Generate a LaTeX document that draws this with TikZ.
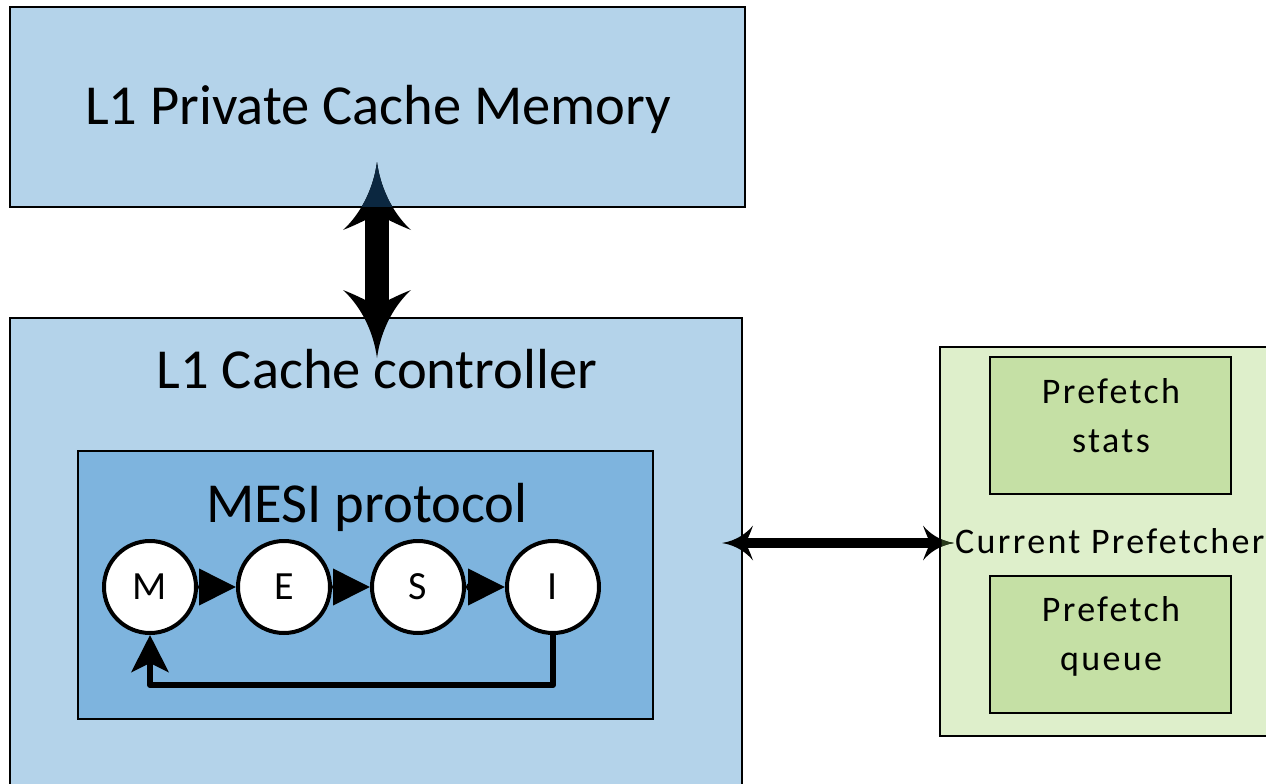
\documentclass[tikz,border=0pt]{standalone}
\usepackage{fontspec}
\setmainfont{Carlito}
\newfontfamily\trackedfont[LetterSpace=6.5]{Carlito}
\usetikzlibrary{arrows.meta}

\definecolor{cacheblue}{RGB}{180,211,234}
\definecolor{mesiblue}{RGB}{126,180,222}
\definecolor{preflight}{RGB}{222,239,203}
\definecolor{prefdark}{RGB}{197,224,165}
\definecolor{tipnavy}{RGB}{11,39,64}
\definecolor{tipgreen}{RGB}{40,58,26}

% flared arrow head with concave sides
\pgfdeclarearrow{
  name = Flare,
  parameters = {\the\pgfarrowlength,\the\pgfarrowwidth},
  setup code = {
    \pgfarrowssettipend{0pt}
    \pgfarrowssetbackend{-\pgfarrowlength}
    \pgfarrowssetlineend{-0.7\pgfarrowlength}
    \pgfarrowssavethe\pgfarrowlength
    \pgfarrowssavethe\pgfarrowwidth
  },
  drawing code = {
    \pgfpathmoveto{\pgfqpoint{0pt}{0pt}}
    \pgfpathcurveto
      {\pgfpoint{-0.45\pgfarrowlength}{0.06\pgfarrowwidth}}
      {\pgfpoint{-0.8\pgfarrowlength}{0.28\pgfarrowwidth}}
      {\pgfpoint{-\pgfarrowlength}{0.5\pgfarrowwidth}}
    \pgfpathcurveto
      {\pgfpoint{-0.9\pgfarrowlength}{0.25\pgfarrowwidth}}
      {\pgfpoint{-0.82\pgfarrowlength}{0.1\pgfarrowwidth}}
      {\pgfpoint{-0.75\pgfarrowlength}{0pt}}
    \pgfpathcurveto
      {\pgfpoint{-0.82\pgfarrowlength}{-0.1\pgfarrowwidth}}
      {\pgfpoint{-0.9\pgfarrowlength}{-0.25\pgfarrowwidth}}
      {\pgfpoint{-\pgfarrowlength}{-0.5\pgfarrowwidth}}
    \pgfpathcurveto
      {\pgfpoint{-0.8\pgfarrowlength}{-0.28\pgfarrowwidth}}
      {\pgfpoint{-0.45\pgfarrowlength}{-0.06\pgfarrowwidth}}
      {\pgfqpoint{0pt}{0pt}}
    \pgfpathclose
    \pgfusepathqfill
  },
  defaults = {length=10pt, width=10pt}
}

\newcommand\titlesize{\fontsize{56.5}{64}\selectfont}
\newcommand\statesize{\fontsize{40}{46}\selectfont}
\newcommand\prefsize{\trackedfont\fontsize{36}{49}\selectfont}

\begin{document}
\begin{tikzpicture}[x=1pt,y=-1pt,
  box/.style={draw=black, line width=2pt, rectangle, inner sep=0pt, outer sep=0pt},
  thinbox/.style={draw=black, line width=1.3pt, rectangle, inner sep=0pt, outer sep=0pt},
  title/.style={font=\titlesize, inner sep=0pt, anchor=base},
  smalltext/.style={font=\prefsize, inner sep=0pt, anchor=base},
  state/.style={circle, draw=black, fill=white, line width=4pt, minimum size=92pt,
                inner sep=0pt, font=\statesize},
  step arrow/.style={line width=4pt, {Circle[length=8pt]}-{Triangle[length=37pt,width=36pt]}},
  back arrow/.style={line width=6pt, line join=round, -{Stealth[length=37pt,width=37pt,inset=9pt]}},
  vbus/.style={line width=24pt, {Flare[length=68pt,width=68pt]}-{Flare[length=68pt,width=68pt]}},
  hbus/.style={line width=10pt, {Flare[length=31pt,width=35pt]}-{Flare[length=31pt,width=35pt]}},
]
\useasboundingbox (0,0) rectangle (1266,784);
\fill[white] (0,0) rectangle (1266,784);

% L1 private cache memory
\node[box, fill=cacheblue, minimum width=735pt, minimum height=200pt] (mem) at (377.5,107) {};
\node[title] (memlabel) at (378,124) {L1 Private Cache Memory};

% L1 cache controller (runs off the bottom edge)
\node[box, fill=cacheblue, minimum width=732pt, minimum height=472pt] (ctl) at (376,554) {};
\node[title] (ctllabel) at (377,388) {L1 Cache controller};

% MESI protocol block
\node[box, fill=mesiblue, minimum width=575pt, minimum height=268pt] (mesi) at (365.5,585) {};
\node[title] (mesilabel) at (367,522) {MESI protocol};

\node[state] (M) at (150,587) {M};
\node[state] (E) at (284,587) {E};
\node[state] (S) at (418,587) {S};
\node[state] (I) at (553,587) {I};

\draw[step arrow] (M) -- (E);
\draw[step arrow] (E) -- (S);
\draw[step arrow] (S) -- (I);
\draw[back arrow] (I.south) -- ++(0,50) -| (M.south);

% current prefetcher (runs off the right edge)
\node[thinbox, fill=preflight, minimum width=340pt, minimum height=389pt] (pref) at (1110,541.5) {};
\node[thinbox, fill=prefdark, minimum width=241pt, minimum height=137pt] (stats) at (1110.5,425.5) {};
\node[thinbox, fill=prefdark, minimum width=241pt, minimum height=137pt] (queue) at (1110.5,644.5) {};
\node[smalltext] (statsA) at (1111,403) {Prefetch};
\node[smalltext] (statsB) at (1111,452) {stats};
\node[smalltext] (queueA) at (1111,621) {Prefetch};
\node[smalltext] (queueB) at (1111,670) {queue};
\node[smalltext, anchor=base west] (preflabel) at (955,553) {Current Prefetcher};

% buses
\coordinate (memtip) at (377,162);
\coordinate (ctltip) at (377,358);
\coordinate (ctlport) at (722,543);
\coordinate (prefport) at (954,543);

\draw[vbus] (memtip) -- (ctltip);
\begin{scope}
  \clip (0,0) rectangle (1266,206);
  \draw[vbus, color=tipnavy] (memtip) -- (ctltip);
\end{scope}

\draw[hbus] (ctlport) -- (prefport);
\begin{scope}
  \clip (941.5,0) rectangle (1266,784);
  \draw[hbus, color=tipgreen] (ctlport) -- (prefport);
\end{scope}
\end{tikzpicture}
\end{document}
